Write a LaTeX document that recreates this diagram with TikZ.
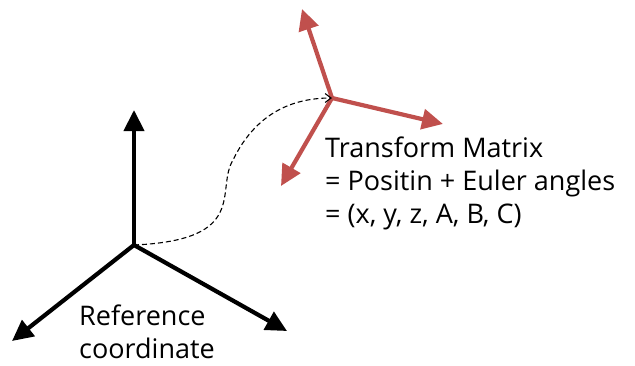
\documentclass[tikz,border=0pt]{standalone}
\usepackage{fontspec}
\setmainfont{Open Sans}
\usetikzlibrary{arrows.meta}
\definecolor{rc}{RGB}{192,80,77}
\tikzset{ax/.style={line width=4.2pt,-{Triangle[length=21pt,width=20pt]}},
 rax/.style={ax,draw=rc,-{Triangle[length=21pt,width=20pt,fill=rc]}},
 link/.style={dash pattern=on 5pt off 3pt,line width=1.1pt,-{Straight Barb[length=6pt,width=9pt]}},
 txt/.style={align=left,font=\fontsize{27}{33}\selectfont,inner sep=0pt}}
\begin{document}
\begin{tikzpicture}[x=1pt,y=-1pt]
\useasboundingbox (0,0) rectangle (635,365);
% reference frame
\coordinate (o) at (134,245);
\coordinate (ou) at (134,110);
\coordinate (ol) at (12,341);
\coordinate (or) at (287,331);
\draw[ax] (o)--(ou);\draw[ax] (o)--(ol);\draw[ax] (o)--(or);
% transformed frame
\coordinate (t) at (332,98);
\coordinate (tu) at (302,9);
\coordinate (tr) at (443,124);
\coordinate (tl) at (281,186);
\draw[rax] (t)--(tu);\draw[rax] (t)--(tr);\draw[rax] (t)--(tl);
\draw[link] (o) .. controls (250,240) and (215,190) .. (233,160)
 .. controls (255,115) and (290,98) .. (t);
\node[txt,anchor=base west] (tm) at (325,223) {Transform Matrix\\= Positin + Euler angles\\= (x, y, z, A, B, C)};
\node[txt,anchor=base west] (rf) at (79,358) {Reference\\coordinate};
\end{tikzpicture}
\end{document}
